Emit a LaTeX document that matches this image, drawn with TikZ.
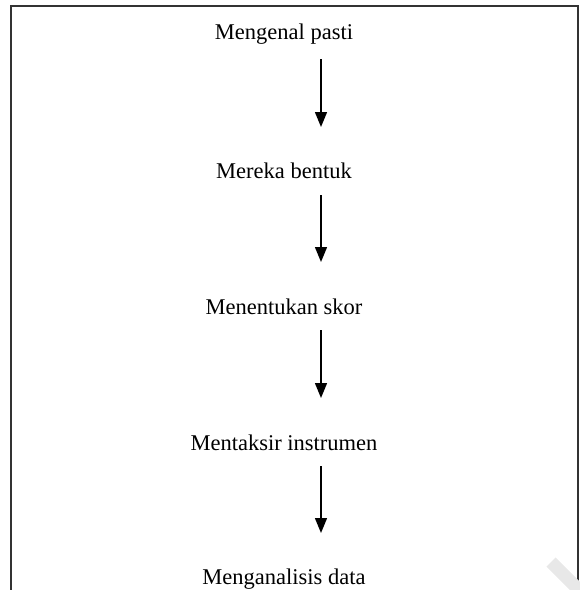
\documentclass[tikz,border=0pt]{standalone}
\usepackage{fontspec}
\setmainfont{Liberation Serif}
\usetikzlibrary{arrows.meta}
\begin{document}
\begin{tikzpicture}[x=1pt,y=-1pt,
  stage/.style={font=\fontsize{22.5}{25}\selectfont, inner sep=0pt, anchor=center},
  flow/.style={line width=1.4pt, -{Triangle[width=12pt,length=15pt]}},
  frame/.style={line width=1.6pt, draw=black!80}]
  \useasboundingbox (0,0) rectangle (580,590);
  % open-bottom frame
  \draw[frame] (11,606) -- (11,6) -- (578,6) -- (578,606);
  % watermark stripe
  \begin{scope}
    \clip (0,0) rectangle (580,590);
    \draw[line width=13pt, black!9] (551,562) -- (601,612);
  \end{scope}
  % stages
  \node[stage] (n1) at (284,34) {Mengenal pasti};
  \node[stage] (n2) at (284,171) {Mereka bentuk};
  \node[stage] (n3) at (284,307) {Menentukan skor};
  \node[stage] (n4) at (284,443) {Mentaksir instrumen};
  \node[stage] (n5) at (284,579) {Menganalisis data};
  % arrows between stages
  \coordinate (a1) at (321,59);  \coordinate (b1) at (321,127);
  \coordinate (a2) at (321,195); \coordinate (b2) at (321,262);
  \coordinate (a3) at (321,330); \coordinate (b3) at (321,398);
  \coordinate (a4) at (321,466); \coordinate (b4) at (321,533);
  \draw[flow] (a1) -- (b1);
  \draw[flow] (a2) -- (b2);
  \draw[flow] (a3) -- (b3);
  \draw[flow] (a4) -- (b4);
\end{tikzpicture}
\end{document}
